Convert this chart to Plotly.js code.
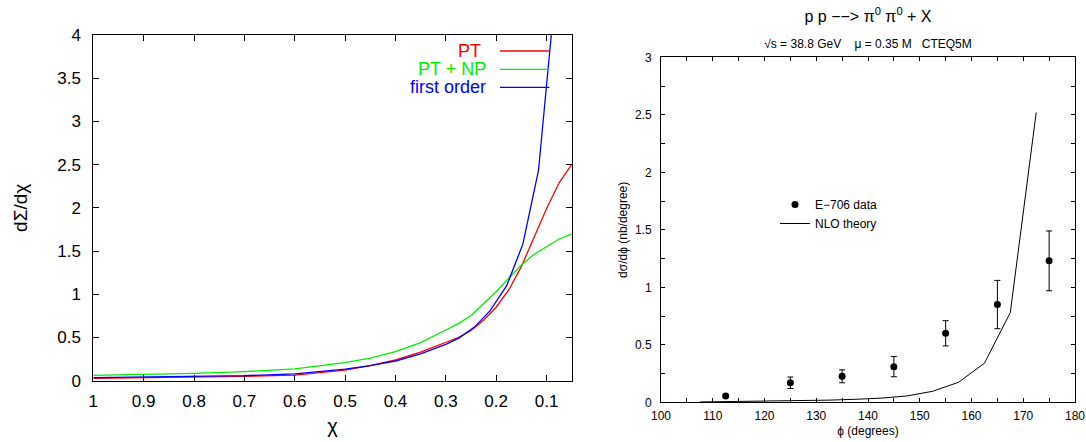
<!DOCTYPE html>
<html>
<head>
<meta charset="utf-8">
<script src="https://cdn.plot.ly/plotly-3.0.1.min.js"></script>
<style>html,body{margin:0;padding:0;background:#fff;}#chart{width:1086px;height:442px;}</style>
</head>
<body>
<div id="chart"></div>
<script>
// ---- Left panel: dΣ/dχ vs χ ----
var chiGrid   = [1.0, 0.9, 0.8, 0.7, 0.6, 0.5, 0.45, 0.4, 0.35, 0.3, 0.275, 0.25, 0.225, 0.2, 0.175, 0.15, 0.125, 0.1, 0.075, 0.05];
var ptVals    = [0.028, 0.033, 0.040, 0.050, 0.065, 0.122, 0.175, 0.24, 0.33, 0.444, 0.50, 0.58, 0.70, 0.85, 1.05, 1.32, 1.65, 1.99, 2.29, 2.50];
var ptnpVals  = [0.062, 0.072, 0.085, 0.105, 0.137, 0.208, 0.26, 0.336, 0.44, 0.587, 0.66, 0.755, 0.89, 1.03, 1.185, 1.34, 1.46, 1.555, 1.64, 1.70];
var firstChi  = [1.0, 0.9, 0.8, 0.7, 0.6, 0.5, 0.45, 0.4, 0.35, 0.3, 0.275, 0.243, 0.212, 0.179, 0.147, 0.116, 0.084];
var firstVals = [0.035, 0.040, 0.046, 0.058, 0.08, 0.135, 0.175, 0.228, 0.31, 0.42, 0.49, 0.62, 0.81, 1.10, 1.58, 2.43, 4.4];
var leftNames = ["PT", "PT + NP", "first order"];

// ---- Right panel: pp -> pi0 pi0 + X ----
var phiData   = [112.5, 125, 135, 145, 155, 165, 175];
var e706Vals  = [0.055, 0.17, 0.226, 0.31, 0.60, 0.85, 1.23];
var e706Err   = [0.01, 0.05, 0.056, 0.088, 0.11, 0.21, 0.26];
var phiTheory = [107.5, 112.5, 117.5, 122.5, 127.5, 132.5, 137.5, 142.5, 147.5, 152.5, 157.5, 162.5, 167.5, 172.5];
var nloVals   = [0.003, 0.005, 0.007, 0.010, 0.014, 0.019, 0.026, 0.036, 0.055, 0.096, 0.174, 0.34, 0.78, 2.52];
var rightNames = ["E\u2212706 data", "NLO theory"];

var W = 1086, H = 442;
var FONT = "Liberation Sans, Arial, Helvetica, sans-serif";
var colRed = "#ff0000", colGreen = "#00ee00", colBlue = "#0000ff";

var traces = [
  {x: chiGrid, y: ptVals, mode: "lines", line: {color: colRed, width: 1.3}, xaxis: "x", yaxis: "y", showlegend: false, name: leftNames[0]},
  {x: chiGrid, y: ptnpVals, mode: "lines", line: {color: colGreen, width: 1.3}, xaxis: "x", yaxis: "y", showlegend: false, name: leftNames[1]},
  {x: firstChi, y: firstVals, mode: "lines", line: {color: colBlue, width: 1.3}, xaxis: "x", yaxis: "y", showlegend: false, name: leftNames[2]},
  {x: phiData, y: e706Vals, mode: "markers", marker: {color: "black", size: 7},
   error_y: {type: "data", array: e706Err, visible: true, color: "black", thickness: 1, width: 3},
   xaxis: "x2", yaxis: "y2", name: rightNames[0], legend: "legend2", showlegend: true},
  {x: phiTheory, y: nloVals, mode: "lines", line: {color: "black", width: 1}, xaxis: "x2", yaxis: "y2",
   name: rightNames[1], legend: "legend2", showlegend: true}
];

function axisBase() {
  return {showline: true, linecolor: "black", linewidth: 1, mirror: "ticks", ticks: "inside",
          tickcolor: "black", showgrid: false, zeroline: false};
}

var xa = Object.assign(axisBase(), {
  domain: [93.3 / W, 571.7 / W], range: [1, 0.05], tick0: 0, dtick: 0.1, ticklen: 6,
  tickfont: {size: 17}, ticklabelstandoff: 5, anchor: "y",
  title: {text: "\u03c7", font: {size: 20}, standoff: 8}
});
var ya = Object.assign(axisBase(), {
  domain: [1 - 380.7 / H, 1 - 35 / H], range: [0, 4], dtick: 0.5, ticklen: 6,
  tickfont: {size: 17}, ticklabelstandoff: 8, anchor: "x",
  title: {text: "d\u03a3/d\u03c7", font: {size: 19}, standoff: 24}
});
var xa2 = Object.assign(axisBase(), {
  domain: [661 / W, 1075 / W], range: [100, 180], dtick: 10, ticklen: 4,
  minor: {dtick: 5, ticks: "inside", ticklen: 4, tickcolor: "black"},
  tickfont: {size: 12}, ticklabelstandoff: 2, anchor: "y2",
  title: {text: "\u03d5 (degrees)", font: {size: 12}, standoff: 4}
});
var ya2 = Object.assign(axisBase(), {
  domain: [1 - 402.3 / H, 1 - 57.3 / H], range: [0, 3], dtick: 0.5, ticklen: 4,
  minor: {dtick: 0.25, ticks: "inside", ticklen: 4, tickcolor: "black"},
  tickfont: {size: 12}, ticklabelstandoff: 6, anchor: "x2",
  title: {text: "d\u03c3/d\u03d5 (nb/degree)", font: {size: 12}, standoff: 4}
});

var legendYs = [51, 69.3, 87.3];
var legendTextRight = [483, 488, 488];
var legendCols = [colRed, colGreen, colBlue];
var annotations = [], shapes = [];
for (var i = 0; i < 3; i++) {
  annotations.push({xref: "paper", yref: "paper", x: legendTextRight[i] / W, y: 1 - legendYs[i] / H,
    xanchor: "right", yanchor: "middle", showarrow: false, text: leftNames[i],
    font: {size: 18, color: legendCols[i], family: FONT}});
  shapes.push({type: "line", xref: "paper", yref: "paper", x0: 500 / W, x1: 549.5 / W,
    y0: 1 - legendYs[i] / H, y1: 1 - legendYs[i] / H, line: {color: legendCols[i], width: 1.3}});
}

var nb = "\u00a0";
var layout = {
  width: W, height: H,
  margin: {l: 0, r: 0, t: 0, b: 0},
  paper_bgcolor: "white", plot_bgcolor: "white",
  font: {family: FONT, color: "black"},
  title: {
    text: "p p \u2212\u2212&gt; \u03c0<sup>0</sup> \u03c0<sup>0</sup> + X",
    font: {size: 16, family: FONT, color: "black"},
    x: 868 / W, xanchor: "center", y: 1 - 16 / H, yanchor: "middle",
    subtitle: {text: "\u221as = 38.8 GeV" + nb + nb + nb + nb + "\u03bc = 0.35 M" + nb + nb + nb + "CTEQ5M",
               font: {size: 12, family: FONT, color: "black"}}
  },
  xaxis: xa, yaxis: ya, xaxis2: xa2, yaxis2: ya2,
  showlegend: true,
  legend2: {x: 775 / W, y: 1 - 190 / H, xanchor: "left", yanchor: "top",
            bgcolor: "rgba(0,0,0,0)", borderwidth: 0, font: {size: 12, family: FONT, color: "black"}},
  annotations: annotations,
  shapes: shapes
};

Plotly.newPlot("chart", traces, layout, {staticPlot: true, displayModeBar: false});
</script>
</body>
</html>
